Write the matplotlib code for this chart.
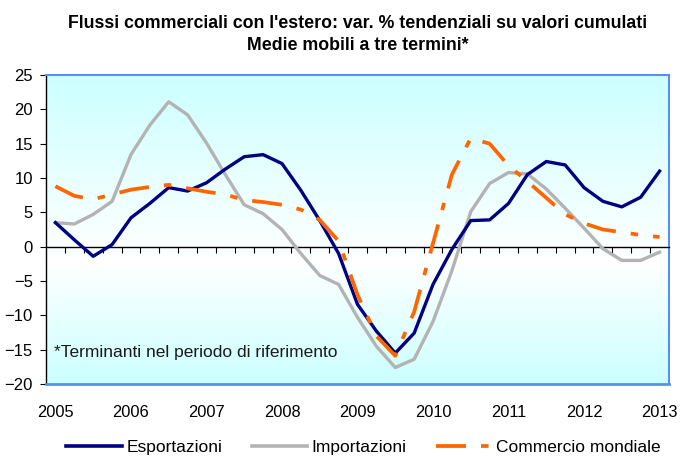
import numpy as np
import matplotlib
matplotlib.use("Agg")
import matplotlib.pyplot as plt
from matplotlib.lines import Line2D
from matplotlib.colors import LinearSegmentedColormap

plt.rcParams['font.family'] = ['Liberation Sans', 'DejaVu Sans']

years = ['2005', '2006', '2007', '2008', '2009', '2010', '2011', '2012', '2013']

esportazioni = [3.5, 1.0, -1.4, 0.3, 4.2, 6.3, 8.6, 8.1, 9.3, 11.3, 13.1, 13.4, 12.1,
                8.2, 3.8, -1.0, -8.4, -12.3, -15.5, -12.6, -5.5, -0.4, 3.8, 3.9,
                6.3, 10.5, 12.4, 11.9, 8.6, 6.6, 5.8, 7.2, 11.0]
importazioni = [3.5, 3.3, 4.7, 6.6, 13.4, 17.7, 21.1, 19.2, 15.1, 10.5, 6.1, 4.8, 2.5,
                -1.0, -4.2, -5.5, -10.3, -14.5, -17.6, -16.4, -10.9, -3.5, 5.1, 9.2,
                10.8, 10.6, 8.4, 5.6, 2.7, -0.3, -2.0, -2.0, -0.8]
commercio = [8.8, 7.4, 6.9, 7.6, 8.3, 8.7, 9.0, 8.5, 8.0, 7.6, 6.8, 6.5, 6.1,
             5.4, 3.9, 0.8, -7.0, -13.0, -15.9, -9.5, 0.5, 10.5, 15.8, 15.0,
             11.8, 9.5, 7.1, 4.7, 3.4, 2.5, 2.1, 1.7, 1.4]

title = "Flussi commerciali con l'estero: var. % tendenziali su valori cumulati\nMedie mobili a tre termini*"
note = "*Terminanti nel periodo di riferimento"

n = len(esportazioni)
x = np.arange(n)

fig = plt.figure(figsize=(6.8, 4.57), dpi=100)
ax = fig.add_axes([46/680, 1-384/457, (669-46)/680, (384-75)/457])

ymin, ymax = -20, 25
cmap = LinearSegmentedColormap.from_list('bg', [(0.0, '#ccffff'), (0.6, '#ffffff'), (1.0, '#ccffff')])
grad = np.linspace(0, 1, 256).reshape(-1, 1)
ax.imshow(grad, extent=(-0.5, n - 0.5, ymin, ymax), aspect='auto', cmap=cmap,
          origin='upper', zorder=0)

dash = (8, 4, 2, 4)
ax.plot(x, importazioni, color='#b3b3b3', lw=2.4, zorder=3)
ax.plot(x, esportazioni, color='#000080', lw=2.4, zorder=4)
ax.plot(x, commercio, color='#ff6600', lw=2.7, zorder=5, dashes=dash)

ax.set_xlim(-0.5, n - 0.5)
ax.set_ylim(ymin, ymax)

for s in ['top', 'right']:
    ax.spines[s].set_color('#5b8ef5')
    ax.spines[s].set_linewidth(1.5)
ax.spines['left'].set_color('black')
ax.spines['left'].set_linewidth(1.0)
ax.spines['bottom'].set_position(('data', 0))
ax.spines['bottom'].set_color('black')
ax.spines['bottom'].set_linewidth(1.0)
ax.axhline(ymin, color='#5b8ef5', lw=2.0, zorder=6, clip_on=False)

ax.set_yticks(np.arange(ymin, ymax + 1, 5))
ax.tick_params(axis='y', direction='out', length=4, labelsize=12, pad=5.5, colors='black')
ax.set_xticks(np.arange(0.5, n - 1, 1.0))
ax.tick_params(axis='x', direction='out', length=4, labelbottom=False)

for i, yl in enumerate(years):
    ax.text(i * 4, -(412.7 - 384) / (384 - 75), yl, transform=ax.get_xaxis_transform(),
            ha='center', va='center', fontsize=11.8)

ax.text(-0.05, -15.4, note, ha='left', va='center', fontsize=12.5, color='#1a1a1a', zorder=7)

fig.text(357.5/680, 1 - 34.5/457, title, ha='center', va='center', fontsize=12.8,
         fontweight='bold', linespacing=1.45)

handles = [Line2D([], [], color='#000080', lw=2.6),
           Line2D([], [], color='#b3b3b3', lw=2.6),
           Line2D([], [], color='#ff6600', lw=2.7, dashes=dash)]
fig.legend(handles, ['Esportazioni', 'Importazioni', 'Commercio mondiale'],
           loc='center', bbox_to_anchor=(363.5/680, 1 - 447/457), ncol=3, frameon=False,
           fontsize=12.5, handlelength=3.2, handletextpad=0.25, columnspacing=1.7,
           borderpad=0.0)

fig.savefig('out.png', dpi=100)
